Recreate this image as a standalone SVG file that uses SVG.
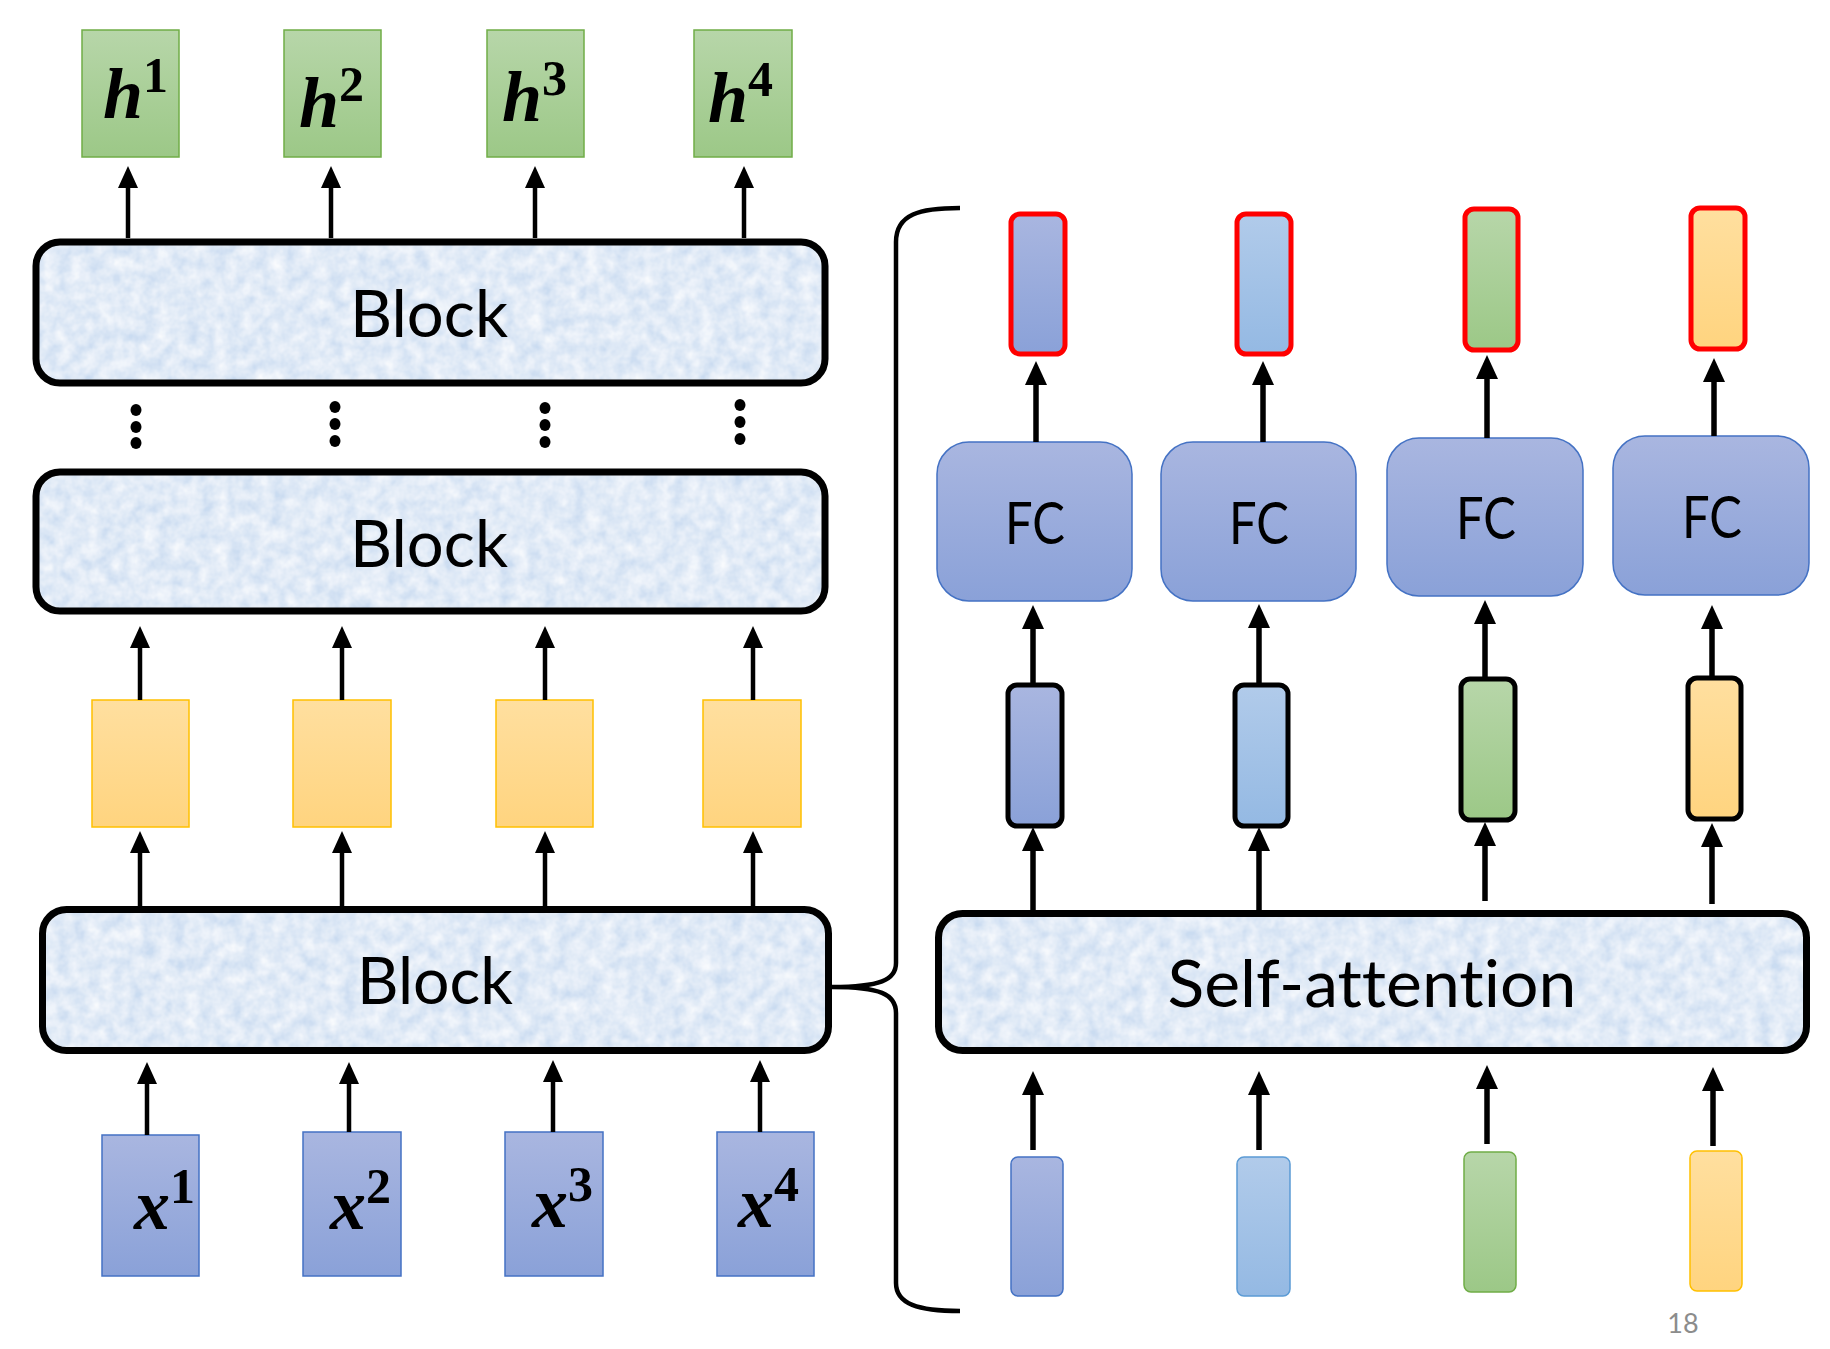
<svg xmlns="http://www.w3.org/2000/svg" width="1830" height="1349" viewBox="0 0 1830 1349">
<defs>
  <linearGradient id="gPurple" x1="0" y1="0" x2="0" y2="1"><stop offset="0" stop-color="#A9B6E0"/><stop offset="1" stop-color="#8AA1D8"/></linearGradient>
  <linearGradient id="gLight" x1="0" y1="0" x2="0" y2="1"><stop offset="0" stop-color="#B1CBEA"/><stop offset="1" stop-color="#94B9E3"/></linearGradient>
  <linearGradient id="gGreen" x1="0" y1="0" x2="0" y2="1"><stop offset="0" stop-color="#B7D6A9"/><stop offset="1" stop-color="#9CC887"/></linearGradient>
  <linearGradient id="gYellow" x1="0" y1="0" x2="0" y2="1"><stop offset="0" stop-color="#FFDF9F"/><stop offset="1" stop-color="#FFD47F"/></linearGradient>
  <filter id="tex" x="0" y="0" width="100%" height="100%">
    <feTurbulence type="fractalNoise" baseFrequency="0.07" numOctaves="3" seed="4" result="n"/>
    <feColorMatrix in="n" type="matrix" values="0 0 0 0 1  0 0 0 0 1  0 0 0 0 1  1.1 0 0 0 -0.15" result="w"/>
    <feComposite in="w" in2="SourceGraphic" operator="in" result="wc"/>
    <feMerge><feMergeNode in="SourceGraphic"/><feMergeNode in="wc"/></feMerge>
  </filter>
  <marker id="ah" markerUnits="userSpaceOnUse" markerWidth="24" markerHeight="22" viewBox="0 -11 24 22" refX="0" refY="0" orient="auto">
    <path d="M0,-10 L22,0 L0,10 Z" fill="#000"/>
  </marker>
  <marker id="ahR" markerUnits="userSpaceOnUse" markerWidth="26" markerHeight="24" viewBox="0 -12 26 24" refX="0" refY="0" orient="auto">
    <path d="M0,-11 L24,0 L0,11 Z" fill="#000"/>
  </marker>
</defs>
<style>
  .blockfill { fill: #CADCF1; filter: url(#tex); }
  .blockstroke { fill: none; stroke: #000; stroke-width: 7; }
  .lbl { font-family: Lato, "Liberation Sans", sans-serif; fill: #000; font-variant-ligatures: none; }
  .big { font-size: 66px; }
  .fc { font-size: 58px; }
  .math { font-family: "Liberation Serif", "DejaVu Serif", serif; font-weight: bold; fill: #000; }
  .mi { font-style: italic; font-size: 72px; }
  .sup { font-size: 50px; }
  .c { stroke: #000; stroke-width: 4.5; fill: none; marker-end: url(#ah); }
  .cR { stroke: #000; stroke-width: 5.5; fill: none; marker-end: url(#ahR); }
  .purple { fill: url(#gPurple); stroke: #4472C4; stroke-width: 1.5; }
  .light { fill: url(#gLight); stroke: #5B9BD5; stroke-width: 1.5; }
  .green { fill: url(#gGreen); stroke: #70AD47; stroke-width: 1.5; }
  .yellow { fill: url(#gYellow); stroke: #FFC000; stroke-width: 1.5; }
  .red { stroke: #FF0000; stroke-width: 5; }
  .blk { stroke: #000; stroke-width: 5; }
  .dot { fill: #000; }
</style>

<!-- Output h boxes -->
<g id="h1"><rect class="green" x="82" y="30" width="97" height="127"/><text class="math" x="103" y="118"><tspan class="mi">h</tspan><tspan class="sup" dy="-26">1</tspan></text></g>
<g id="h2"><rect class="green" x="284" y="30" width="97" height="127"/><text class="math" x="299" y="127"><tspan class="mi">h</tspan><tspan class="sup" dy="-26">2</tspan></text></g>
<g id="h3"><rect class="green" x="487" y="30" width="97" height="127"/><text class="math" x="502" y="121"><tspan class="mi">h</tspan><tspan class="sup" dy="-26">3</tspan></text></g>
<g id="h4"><rect class="green" x="694" y="30" width="98" height="127"/><text class="math" x="708" y="122"><tspan class="mi">h</tspan><tspan class="sup" dy="-26">4</tspan></text></g>

<!-- Blocks -->
<g id="block-top">
  <rect class="blockfill" x="36" y="242" width="789" height="141" rx="24"/>
  <rect class="blockstroke" x="36" y="242" width="789" height="141" rx="24"/>
  <text class="lbl big" x="429" y="337" text-anchor="middle" textLength="158" lengthAdjust="spacingAndGlyphs">Block</text>
</g>
<g id="dots">
  <ellipse class="dot" cx="136" cy="410" rx="5.5" ry="6"/><ellipse class="dot" cx="136" cy="427" rx="5.5" ry="6"/><ellipse class="dot" cx="136" cy="443" rx="5.5" ry="6"/>
  <ellipse class="dot" cx="335" cy="407" rx="5.5" ry="6"/><ellipse class="dot" cx="335" cy="424" rx="5.5" ry="6"/><ellipse class="dot" cx="335" cy="441" rx="5.5" ry="6"/>
  <ellipse class="dot" cx="545" cy="408" rx="5.5" ry="6"/><ellipse class="dot" cx="545" cy="425" rx="5.5" ry="6"/><ellipse class="dot" cx="545" cy="442" rx="5.5" ry="6"/>
  <ellipse class="dot" cx="740" cy="405" rx="5.5" ry="6"/><ellipse class="dot" cx="740" cy="422" rx="5.5" ry="6"/><ellipse class="dot" cx="740" cy="439" rx="5.5" ry="6"/>
</g>
<g id="block-mid">
  <rect class="blockfill" x="36" y="472" width="789" height="139" rx="24"/>
  <rect class="blockstroke" x="36" y="472" width="789" height="139" rx="24"/>
  <text class="lbl big" x="429" y="567" text-anchor="middle" textLength="158" lengthAdjust="spacingAndGlyphs">Block</text>
</g>

<!-- Yellow intermediate -->
<g id="y1"><rect class="yellow" x="92" y="700" width="97" height="127"/></g>
<g id="y2"><rect class="yellow" x="293" y="700" width="98" height="127"/></g>
<g id="y3"><rect class="yellow" x="496" y="700" width="97" height="127"/></g>
<g id="y4"><rect class="yellow" x="703" y="700" width="98" height="127"/></g>

<g id="block-bottom">
  <rect class="blockfill" x="42.5" y="909.5" width="786" height="141" rx="24"/>
  <rect class="blockstroke" x="42.5" y="909.5" width="786" height="141" rx="24"/>
  <text class="lbl big" x="435" y="1004" text-anchor="middle" textLength="156" lengthAdjust="spacingAndGlyphs">Block</text>
</g>

<!-- Input x boxes -->
<g id="x1"><rect class="purple" x="102" y="1135" width="97" height="141"/><text class="math" x="134" y="1229"><tspan class="mi">x</tspan><tspan class="sup" dy="-26">1</tspan></text></g>
<g id="x2"><rect class="purple" x="303" y="1132" width="98" height="144"/><text class="math" x="330" y="1229"><tspan class="mi">x</tspan><tspan class="sup" dy="-26">2</tspan></text></g>
<g id="x3"><rect class="purple" x="505" y="1132" width="98" height="144"/><text class="math" x="532" y="1227"><tspan class="mi">x</tspan><tspan class="sup" dy="-26">3</tspan></text></g>
<g id="x4"><rect class="purple" x="717" y="1132" width="97" height="144"/><text class="math" x="738" y="1227"><tspan class="mi">x</tspan><tspan class="sup" dy="-26">4</tspan></text></g>

<!-- Right side: outputs (red) -->
<g id="out1"><rect class="red" x="1011" y="214" width="54" height="140" rx="9" fill="url(#gPurple)"/></g>
<g id="out2"><rect class="red" x="1237" y="214" width="54" height="140" rx="9" fill="url(#gLight)"/></g>
<g id="out3"><rect class="red" x="1465" y="209" width="53" height="141" rx="9" fill="url(#gGreen)"/></g>
<g id="out4"><rect class="red" x="1691" y="208" width="54" height="141" rx="9" fill="url(#gYellow)"/></g>

<!-- FC boxes -->
<g id="fc1"><rect class="purple" x="937" y="442" width="195" height="159" rx="32"/><text class="lbl fc" x="1035" y="544" text-anchor="middle" textLength="60" lengthAdjust="spacingAndGlyphs">FC</text></g>
<g id="fc2"><rect class="purple" x="1161" y="442" width="195" height="159" rx="32"/><text class="lbl fc" x="1259" y="544" text-anchor="middle" textLength="60" lengthAdjust="spacingAndGlyphs">FC</text></g>
<g id="fc3"><rect class="purple" x="1387" y="438" width="196" height="158" rx="32"/><text class="lbl fc" x="1486" y="539" text-anchor="middle" textLength="60" lengthAdjust="spacingAndGlyphs">FC</text></g>
<g id="fc4"><rect class="purple" x="1613" y="436" width="196" height="159" rx="32"/><text class="lbl fc" x="1712" y="538" text-anchor="middle" textLength="60" lengthAdjust="spacingAndGlyphs">FC</text></g>

<!-- Self-attention outputs (black border) -->
<g id="sa1"><rect class="blk" x="1008" y="685" width="54" height="141" rx="9" fill="url(#gPurple)"/></g>
<g id="sa2"><rect class="blk" x="1235" y="685" width="53" height="141" rx="9" fill="url(#gLight)"/></g>
<g id="sa3"><rect class="blk" x="1461" y="679" width="54" height="141" rx="9" fill="url(#gGreen)"/></g>
<g id="sa4"><rect class="blk" x="1688" y="678" width="53" height="141" rx="9" fill="url(#gYellow)"/></g>

<g id="self-attention">
  <rect class="blockfill" x="938.5" y="913.5" width="868" height="137" rx="24"/>
  <rect class="blockstroke" x="938.5" y="913.5" width="868" height="137" rx="24"/>
  <text class="lbl big" x="1372" y="1007" text-anchor="middle" font-size="69" textLength="409" lengthAdjust="spacingAndGlyphs">Self-attention</text>
</g>

<!-- Self-attention inputs -->
<g id="in1"><rect class="purple" x="1011" y="1157" width="52" height="139" rx="7"/></g>
<g id="in2"><rect class="light" x="1237" y="1157" width="53" height="139" rx="7"/></g>
<g id="in3"><rect class="green" x="1464" y="1152" width="52" height="140" rx="7"/></g>
<g id="in4"><rect class="yellow" x="1690" y="1151" width="52" height="140" rx="7"/></g>

<g id="brace">
  <path d="M960,208 C920,208 896,214 896,242 L896,963 C896,980 880,987 832,987 C880,987 896,994 896,1013 L896,1283 C896,1304 918,1311 960,1311" fill="none" stroke="#000" stroke-width="4.5"/>
</g>

<g id="page-number"><text class="lbl" x="1683" y="1333" text-anchor="middle" font-size="27" style="fill:#8C8C8C">18</text></g>

<g id="connectors">
  <!-- top block to h -->
  <path class="c" d="M128,238 V188"/>
  <path class="c" d="M331,238 V188"/>
  <path class="c" d="M535,238 V188"/>
  <path class="c" d="M744,238 V188"/>
  <!-- yellow to middle block -->
  <path class="c" d="M140,700 V648"/>
  <path class="c" d="M342,700 V648"/>
  <path class="c" d="M545,700 V648"/>
  <path class="c" d="M753,700 V648"/>
  <!-- bottom block to yellow -->
  <path class="c" d="M140,907 V853"/>
  <path class="c" d="M342,907 V853"/>
  <path class="c" d="M545,907 V853"/>
  <path class="c" d="M753,907 V853"/>
  <!-- x to bottom block -->
  <path class="c" d="M147,1135 V1084"/>
  <path class="c" d="M349,1132 V1084"/>
  <path class="c" d="M553,1132 V1082"/>
  <path class="c" d="M760,1132 V1082"/>
  <!-- right: inputs to self-attention -->
  <path class="cR" d="M1033,1150 V1095"/>
  <path class="cR" d="M1259,1150 V1095"/>
  <path class="cR" d="M1487,1144 V1089"/>
  <path class="cR" d="M1713,1146 V1091"/>
  <!-- self-attention to black rects -->
  <path class="cR" d="M1033,910 V851"/>
  <path class="cR" d="M1259,910 V851"/>
  <path class="cR" d="M1485,901 V846"/>
  <path class="cR" d="M1712,904 V847"/>
  <!-- black rects to FC -->
  <path class="cR" d="M1033,685 V629"/>
  <path class="cR" d="M1259,685 V628"/>
  <path class="cR" d="M1485,679 V624"/>
  <path class="cR" d="M1712,678 V629"/>
  <!-- FC to red outputs -->
  <path class="cR" d="M1036,442 V385"/>
  <path class="cR" d="M1263,442 V385"/>
  <path class="cR" d="M1487,438 V379"/>
  <path class="cR" d="M1714,436 V382"/>
</g>
</svg>
